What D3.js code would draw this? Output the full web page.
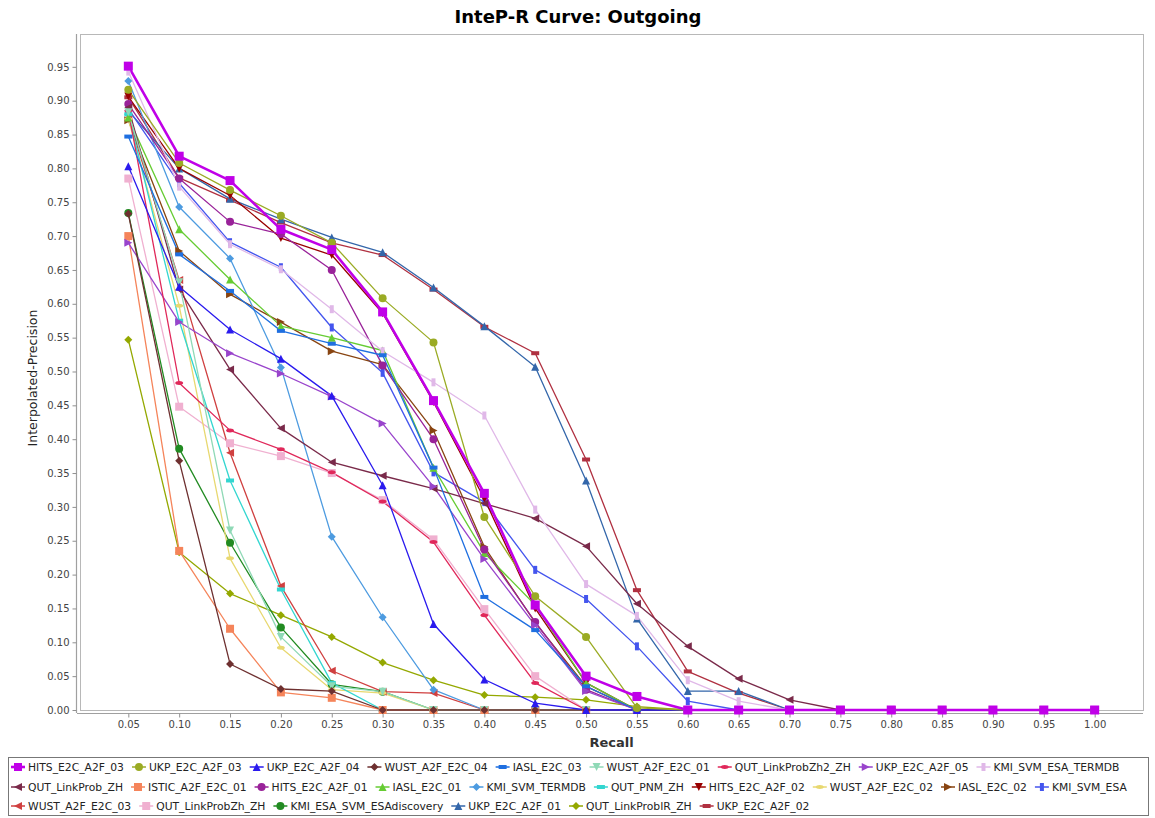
<!DOCTYPE html>
<html><head><meta charset="utf-8">
<script src="https://cdn.jsdelivr.net/npm/d3@7/dist/d3.min.js"></script>
<style>body{margin:0;background:#fff}</style>
</head><body>
<svg id="chart" width="1155" height="818"></svg>
<script>
// ---------- data ----------
const recall = [0.05,0.10,0.15,0.20,0.25,0.30,0.35,0.40,0.45,0.50,0.55,0.60,0.65,0.70,0.75,0.80,0.85,0.90,0.95,1.00];
const yTicks = [0.00,0.05,0.10,0.15,0.20,0.25,0.30,0.35,0.40,0.45,0.50,0.55,0.60,0.65,0.70,0.75,0.80,0.85,0.90,0.95];

const HITS_E2C_A2F_03 = [0.951,0.818,0.782,0.710,0.680,0.588,0.457,0.320,0.155,0.050,0.020,0,0,0,0,0,0,0,0,0];
const UKP_E2C_A2F_03 = [0.916,0.808,0.768,0.730,0.690,0.608,0.543,0.285,0.168,0.108,0.003,0,0,0,0,0,0,0,0,0];
const UKP_E2C_A2F_04 = [0.803,0.625,0.562,0.519,0.464,0.332,0.127,0.045,0.010,0,0,0,0,0,0,0,0,0,0,0];
const WUST_A2F_E2C_04 = [0.733,0.368,0.068,0.031,0.028,0,0,0,0,0,0,0,0,0,0,0,0,0,0,0];
const IASL_E2C_03 = [0.847,0.673,0.619,0.560,0.541,0.524,0.358,0.167,0.118,0.035,0,0,0,0,0,0,0,0,0,0];
const WUST_A2F_E2C_01 = [0.883,0.632,0.265,0.108,0.035,0.027,0,0,0,0,0,0,0,0,0,0,0,0,0,0];
const QUT_LinkProbZh2_ZH = [0.885,0.483,0.413,0.385,0.351,0.308,0.248,0.140,0.040,0,0,0,0,0,0,0,0,0,0,0];
const UKP_E2C_A2F_05 = [0.690,0.573,0.527,0.497,0.463,0.423,0.330,0.223,0.125,0.028,0,0,0,0,0,0,0,0,0,0];
const KMI_SVM_ESA_TERMDB = [0.943,0.773,0.688,0.651,0.592,0.530,0.484,0.435,0.296,0.186,0.139,0.044,0.013,0,0,0,0,0,0,0];
const QUT_LinkProb_ZH = [0.890,0.621,0.503,0.416,0.366,0.346,0.327,0.305,0.283,0.242,0.157,0.094,0.046,0.015,0,0,0,0,0,0];
const ISTIC_A2F_E2C_01 = [0.700,0.235,0.120,0.026,0.018,0,0,0,0,0,0,0,0,0,0,0,0,0,0,0];
const HITS_E2C_A2F_01 = [0.895,0.785,0.721,0.703,0.650,0.509,0.400,0.237,0.130,0.030,0,0,0,0,0,0,0,0,0,0];
const IASL_E2C_01 = [0.875,0.710,0.636,0.567,0.550,0.531,0.358,0.232,0.155,0.040,0,0,0,0,0,0,0,0,0,0];
const KMI_SVM_TERMDB = [0.929,0.743,0.667,0.506,0.256,0.137,0.030,0,0,0,0,0,0,0,0,0,0,0,0,0];
const QUT_PNM_ZH = [0.880,0.575,0.339,0.178,0.040,0,0,0,0,0,0,0,0,0,0,0,0,0,0,0];
const HITS_E2C_A2F_02 = [0.906,0.800,0.760,0.697,0.672,0.586,0.455,0.312,0.150,0.040,0,0,0,0,0,0,0,0,0,0];
const WUST_A2F_E2C_02 = [0.873,0.597,0.224,0.092,0.030,0.025,0,0,0,0,0,0,0,0,0,0,0,0,0,0];
const IASL_E2C_02 = [0.871,0.678,0.614,0.573,0.530,0.510,0.413,0.241,0.129,0.035,0,0,0,0,0,0,0,0,0,0];
const KMI_SVM_ESA = [0.888,0.778,0.691,0.654,0.565,0.498,0.351,0.307,0.207,0.164,0.094,0.013,0,0,0,0,0,0,0,0];
const WUST_A2F_E2C_03 = [0.875,0.635,0.380,0.183,0.058,0.027,0.025,0,0,0,0,0,0,0,0,0,0,0,0,0];
const QUT_LinkProbZh_ZH = [0.785,0.448,0.394,0.375,0.350,0.310,0.252,0.149,0.050,0,0,0,0,0,0,0,0,0,0,0];
const KMI_ESA_SVM_ESAdiscovery = [0.734,0.386,0.247,0.122,0.038,0.027,0,0,0,0,0,0,0,0,0,0,0,0,0,0];
const UKP_E2C_A2F_01 = [0.885,0.800,0.755,0.725,0.698,0.676,0.624,0.567,0.507,0.339,0.135,0.028,0.028,0,0,0,0,0,0,0];
const QUT_LinkProbIR_ZH = [0.547,0.233,0.172,0.140,0.108,0.070,0.044,0.022,0.019,0.015,0.005,0,0,0,0,0,0,0,0,0];
const UKP_E2C_A2F_02 = [0.905,0.786,0.753,0.720,0.690,0.672,0.621,0.566,0.527,0.370,0.177,0.057,0.025,0,0,0,0,0,0,0];

const seriesNames = ["HITS_E2C_A2F_03","UKP_E2C_A2F_03","UKP_E2C_A2F_04","WUST_A2F_E2C_04","IASL_E2C_03","WUST_A2F_E2C_01","QUT_LinkProbZh2_ZH","UKP_E2C_A2F_05","KMI_SVM_ESA_TERMDB",
  "QUT_LinkProb_ZH","ISTIC_A2F_E2C_01","HITS_E2C_A2F_01","IASL_E2C_01","KMI_SVM_TERMDB","QUT_PNM_ZH","HITS_E2C_A2F_02","WUST_A2F_E2C_02","IASL_E2C_02","KMI_SVM_ESA",
  "WUST_A2F_E2C_03","QUT_LinkProbZh_ZH","KMI_ESA_SVM_ESAdiscovery","UKP_E2C_A2F_01","QUT_LinkProbIR_ZH","UKP_E2C_A2F_02"];
const seriesValues = [HITS_E2C_A2F_03,UKP_E2C_A2F_03,UKP_E2C_A2F_04,WUST_A2F_E2C_04,IASL_E2C_03,WUST_A2F_E2C_01,QUT_LinkProbZh2_ZH,UKP_E2C_A2F_05,KMI_SVM_ESA_TERMDB,
  QUT_LinkProb_ZH,ISTIC_A2F_E2C_01,HITS_E2C_A2F_01,IASL_E2C_01,KMI_SVM_TERMDB,QUT_PNM_ZH,HITS_E2C_A2F_02,WUST_A2F_E2C_02,IASL_E2C_02,KMI_SVM_ESA,
  WUST_A2F_E2C_03,QUT_LinkProbZh_ZH,KMI_ESA_SVM_ESAdiscovery,UKP_E2C_A2F_01,QUT_LinkProbIR_ZH,UKP_E2C_A2F_02];
const legendRows = [9, 10, 6];

// ---------- styles ----------
const colors = ["#c000e8","#9aab24","#2a1aee","#6e3030","#1f6fe0","#8fd9b6","#e0285a","#9944cc","#e0b8e8",
  "#7a2a4a","#f5845a","#992299","#66cc33","#4d9be0","#33d6d0","#990000","#e8d870","#884411","#4455ee",
  "#d04040","#f0b0d0","#228b22","#3366aa","#94a800","#b03040"];
const shapeCycle = ["square","circle","up","diamond","hrect","down","hellipse","right","vrect","left"];

function shapePath(type, h) {
  const p = d3.path();
  switch (type) {
    case "square": p.rect(-h,-h,2*h,2*h); break;
    case "circle": p.arc(0,0,h,0,2*Math.PI); break;
    case "up": p.moveTo(0,-h); p.lineTo(h,h); p.lineTo(-h,h); p.closePath(); break;
    case "down": p.moveTo(0,h); p.lineTo(h,-h); p.lineTo(-h,-h); p.closePath(); break;
    case "right": p.moveTo(h,0); p.lineTo(-h,h); p.lineTo(-h,-h); p.closePath(); break;
    case "left": p.moveTo(-h,0); p.lineTo(h,h); p.lineTo(h,-h); p.closePath(); break;
    case "diamond": p.moveTo(0,-h); p.lineTo(h,0); p.lineTo(0,h); p.lineTo(-h,0); p.closePath(); break;
    case "hrect": p.rect(-h,-h/2,2*h,h); break;
    case "vrect": p.rect(-h/2,-h,h,2*h); break;
    case "hellipse": {
      const k=0.5523; const rx=h, ry=h/2;
      p.moveTo(rx,0); p.bezierCurveTo(rx,ry*k,rx*k,ry,0,ry); p.bezierCurveTo(-rx*k,ry,-rx,ry*k,-rx,0);
      p.bezierCurveTo(-rx,-ry*k,-rx*k,-ry,0,-ry); p.bezierCurveTo(rx*k,-ry,rx,-ry*k,rx,0); p.closePath(); break;
    }
  }
  return p.toString();
}

const series = seriesNames.map((name,i)=>({name, values: seriesValues[i], color: colors[i], shape: shapeCycle[i%10], idx:i}));

// ---------- layout ----------
const svg = d3.select("#chart");
svg.append("rect").attr("width",1155).attr("height",818).attr("fill","#fff");
const plot = {left:80, right:1143, top:34, bottom:710};
const x = d3.scaleLinear().domain([0.0025,1.0475]).range([plot.left, plot.right]);
const y = d3.scaleLinear().domain([0,0.9985]).range([plot.bottom, plot.top]);

// title
svg.append("text").attr("x",578).attr("y",23).attr("text-anchor","middle")
  .attr("font-family","DejaVu Sans").attr("font-weight","bold").attr("font-size",18).attr("fill","#000")
  .text("InteP-R Curve: Outgoing");

// plot outline
svg.append("rect").attr("x",plot.left+0.5).attr("y",plot.top+0.5)
  .attr("width",plot.right-plot.left).attr("height",plot.bottom-plot.top)
  .attr("fill","#fff").attr("stroke","#b8b8b8").attr("stroke-width",1);

// axes
const yAxis = d3.axisLeft(y).tickValues(yTicks).tickFormat(d3.format(".2f")).tickSizeInner(4).tickSizeOuter(0).tickPadding(3);
const gy = svg.append("g").attr("transform","translate(76.5,0)").call(yAxis);
const xAxis = d3.axisBottom(x).tickValues(recall).tickFormat(d3.format(".2f")).tickSizeInner(4).tickSizeOuter(0).tickPadding(3);
const gx = svg.append("g").attr("transform","translate(0,713.5)").call(xAxis);
[gx,gy].forEach(g=>{
  g.select(".domain").attr("stroke","#a0a0a0").attr("stroke-width",1.2);
  g.selectAll(".tick line").attr("stroke","#909090");
  g.selectAll(".tick text").attr("font-family","DejaVu Sans").attr("font-size",10).attr("fill","#444");
});
gy.select(".domain").attr("d",`M0,${plot.top}V${plot.bottom+3}`);
gx.select(".domain").attr("d",`M${plot.left-3},0H${plot.right}`);

svg.append("text").attr("x",(plot.left+plot.right)/2).attr("y",747).attr("text-anchor","middle")
  .attr("font-family","DejaVu Sans").attr("font-weight","bold").attr("font-size",13).attr("fill","#333")
  .text("Recall");
svg.append("text").attr("transform","translate(37,378) rotate(-90)").attr("text-anchor","middle")
  .attr("font-family","DejaVu Sans").attr("font-size",12.5).attr("fill","#222")
  .text("Interpolated-Precision");

// lines (reverse order so series 0 on top)
const line = d3.line().x((d,i)=>x(recall[i])).y(d=>y(d));
const rev = series.slice().reverse();
const gLines = svg.append("g");
gLines.selectAll("path").data(rev).join("path")
  .attr("d",s=>line(s.values)).attr("fill","none").attr("stroke",s=>s.color)
  .attr("stroke-width",s=>s.idx===0?2.6:1.3).attr("stroke-linejoin","round");
const gPts = svg.append("g");
rev.forEach(s=>{
  gPts.append("g").selectAll("path").data(s.values).join("path")
    .attr("transform",(d,i)=>`translate(${x(recall[i])},${y(d)})`)
    .attr("d",shapePath(s.shape, s.idx===0?4.5:4)).attr("fill",s.color);
});

// legend
const legBox = {x:8, y:757, w:1140, h:58};
svg.append("rect").attr("x",legBox.x+0.5).attr("y",legBox.y+0.5).attr("width",legBox.w).attr("height",legBox.h)
  .attr("fill","#fff").attr("stroke","#777");
const gLeg = svg.append("g");
const rowY = [767, 787, 806];
let fs = 11;
const fam = "DejaVu Sans";
function measure(t, size){
  const el = gLeg.append("text").attr("font-family",fam).attr("font-size",size).text(t);
  const w = el.node().getComputedTextLength(); el.remove(); return w;
}
function rowEnd(size){
  let k=0, maxEnd=0;
  legendRows.forEach(n=>{
    let cx=11;
    for(let j=0;j<n;j++){ cx += 17 + measure(series[k].name,size) + (j<n-1?8:0); k++; }
    maxEnd=Math.max(maxEnd,cx);
  });
  return maxEnd;
}
while (rowEnd(fs) > 1145 && fs > 8) fs -= 0.25;
let k=0;
legendRows.forEach((n,r)=>{
  let cx=11;
  for(let j=0;j<n;j++){
    const s=series[k];
    const g=gLeg.append("g");
    g.append("line").attr("x1",cx).attr("x2",cx+14).attr("y1",rowY[r]).attr("y2",rowY[r])
      .attr("stroke",s.color).attr("stroke-width",s.idx===0?2.6:1.5);
    g.append("path").attr("transform",`translate(${cx+7},${rowY[r]})`).attr("d",shapePath(s.shape,4)).attr("fill",s.color);
    const t=g.append("text").attr("x",cx+17).attr("y",rowY[r]+4).attr("font-family",fam).attr("font-size",fs)
      .attr("fill","#222").text(s.name);
    cx += 17 + t.node().getComputedTextLength() + 8;
    k++;
  }
});
</script>
</body></html>
